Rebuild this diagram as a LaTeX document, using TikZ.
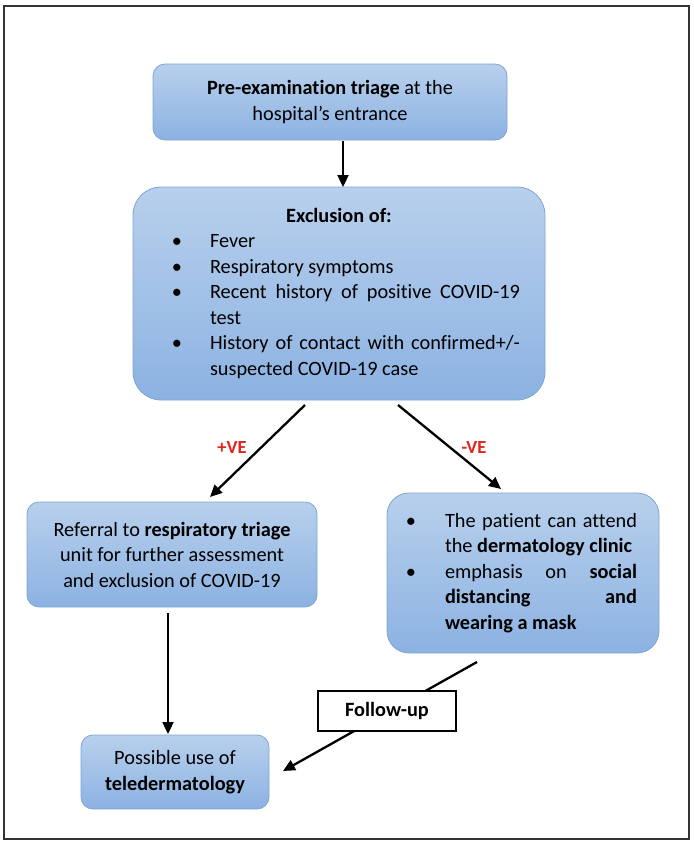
\documentclass[tikz,border=0pt]{standalone}
\usepackage{fontspec}
\setmainfont{Carlito}[Ligatures=NoCommon]
\usepackage{enumitem}
\usetikzlibrary{arrows.meta}
\definecolor{boxtop}{HTML}{B8D0EC}
\definecolor{boxbot}{HTML}{8CB2E2}
\definecolor{boxline}{HTML}{7EA4D4}
\definecolor{vered}{HTML}{E2231A}
\definecolor{framec}{HTML}{333333}
\hyphenpenalty=10000
\exhyphenpenalty=10000
\hbadness=10000
\begin{document}
\begin{tikzpicture}[x=1pt,y=-1pt,
  bluebox/.style={draw=boxline, line width=0.8pt, top color=boxtop, bottom color=boxbot,
    inner sep=0pt, font=\fontsize{20.3}{25.5}\selectfont, align=center},
  arr/.style={-{Triangle[length=12pt,width=11pt]}, line width=2.3pt, black},
  velabel/.style={text=vered, font=\fontsize{18.5}{20}\selectfont\bfseries, inner sep=1pt},
  fubox/.style={draw=black, line width=1.6pt, fill=white, minimum width=138pt,
    minimum height=40pt, inner sep=0pt, font=\fontsize{20.3}{24}\selectfont\bfseries}]
\useasboundingbox (0,0) rectangle (694,847);
\draw[line width=2pt, framec] (4,6) rectangle (689,839);

% boxes
\node[bluebox, rounded corners=12pt, minimum width=354pt, minimum height=76pt] (b1) at (330,102)
  {\textbf{Pre-examination triage} at the\\hospital’s entrance};

\node[bluebox, rounded corners=28pt, minimum width=412pt, minimum height=213pt] (b2) at (339,293.5)
  {\begin{minipage}{362pt}\fontsize{20.3}{25.5}\selectfont
   {\centering\textbf{Exclusion of:}\par}
   \begin{itemize}[label=\textbullet, leftmargin=52pt, labelsep=28pt, itemsep=0pt, topsep=0pt, parsep=0pt, partopsep=0pt]
   \item Fever
   \item Respiratory symptoms
   \item Recent history of positive COVID-19\linebreak test
   \item History of contact with confirmed+/-\linebreak suspected COVID-19 case
   \end{itemize}
   \end{minipage}};

\node[bluebox, rounded corners=12pt, minimum width=290pt, minimum height=105pt] (lb) at (172,554.5)
  {Referral to \textbf{respiratory triage}\\unit for further assessment\\and exclusion of COVID-19};

\node[bluebox, rounded corners=22pt, minimum width=272pt, minimum height=160pt] (rb) at (523,573)
  {\begin{minipage}{228pt}\fontsize{20.3}{25.5}\selectfont
   \begin{itemize}[label=\textbullet, leftmargin=36pt, labelsep=29pt, itemsep=0pt, topsep=0pt, parsep=0pt, partopsep=0pt]
   \item The patient can attend\linebreak the \textbf{dermatology clinic}
   \item emphasis on \textbf{social}\linebreak \textbf{distancing} \textbf{and}\linebreak \textbf{wearing a mask}
   \end{itemize}
   \end{minipage}};

\node[bluebox, rounded corners=12pt, minimum width=188pt, minimum height=74pt] (bb) at (175,772)
  {Possible use of\\\textbf{teledermatology}};

% labels
\node[velabel] (pve) at (232,447) {+VE};
\node[velabel] (nve) at (474,447) {-VE};

% connectors
\coordinate (a1s) at (343,141);
\coordinate (a1e) at (343,187);
\draw[arr] (a1s) -- (a1e);

\coordinate (a2s) at (305,405);
\coordinate (a2e) at (210,497);
\draw[arr] (a2s) -- (a2e);

\coordinate (a3s) at (398,405);
\coordinate (a3e) at (501,489);
\draw[arr] (a3s) -- (a3e);

\coordinate (a4s) at (168,613);
\coordinate (a4e) at (168,734);
\draw[arr] (a4s) -- (a4e);

\coordinate (a5s) at (477,662);
\coordinate (a5e) at (283,771);
\draw[arr] (a5s) -- (a5e);

\node[fubox] (fu) at (387,711) {Follow-up};
\end{tikzpicture}
\end{document}
